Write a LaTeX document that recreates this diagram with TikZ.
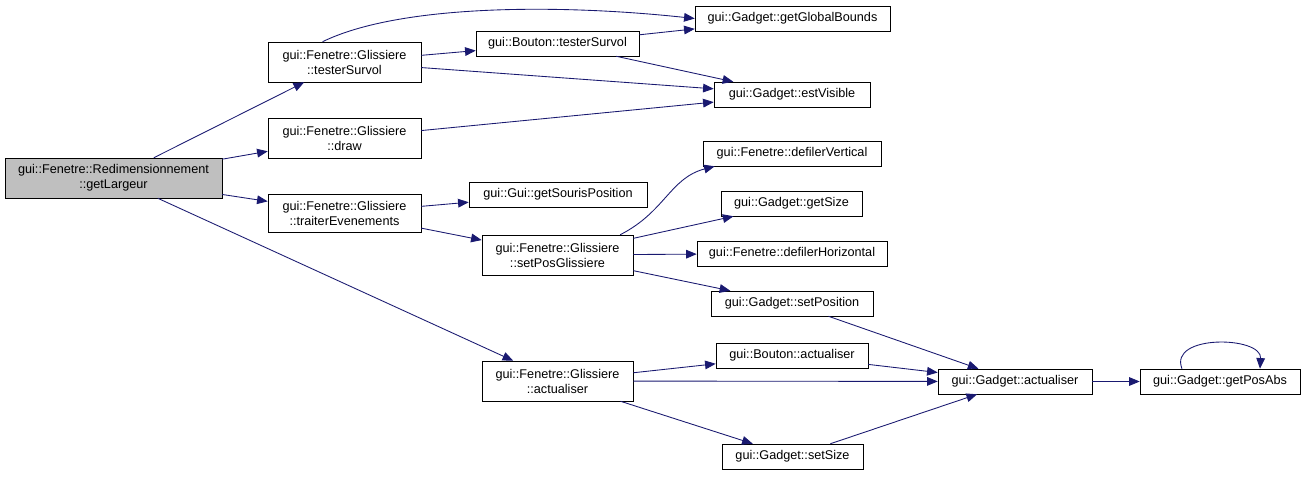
\documentclass[tikz,border=0pt]{standalone}
\usepackage{fontspec}
\setmainfont{Liberation Sans}
\usetikzlibrary{arrows.meta}
\definecolor{edgeblue}{HTML}{191970}

\begin{document}
\begin{tikzpicture}[x=0.75pt,y=-0.75pt]
\tikzstyle{every node} = [draw, rectangle, inner sep=0pt, align=center, minimum height=18.75pt, font=\fontsize{9.5}{11.25}\selectfont]
\tikzstyle{dbl} = [minimum height=30pt]
\tikzstyle{rootfn} = [dbl, fill=black!25]
\tikzstyle{call} = [draw=edgeblue, line width=0.65pt, -{Triangle[length=8pt,width=6.5pt]}]

\useasboundingbox (0,0) rectangle (1307,476);

\node[rootfn, minimum width=162.75pt] (getLargeur) at (113.5,178) {gui::Fenetre::Redimensionnement\\::getLargeur};

\node[dbl, minimum width=114.75pt] (glTesterSurvol) at (344.5,62) {gui::Fenetre::Glissiere\\::testerSurvol};
\node[dbl, minimum width=114.75pt] (glDraw) at (344.5,138) {gui::Fenetre::Glissiere\\::draw};
\node[dbl, minimum width=114.75pt, minimum height=28.5pt] (glTraiter) at (344.5,213) {gui::Fenetre::Glissiere\\::traiterEvenements};

\node[minimum width=122.25pt] (btTesterSurvol) at (557.5,43.5) {gui::Bouton::testerSurvol};
\node[minimum width=133.5pt] (souris) at (558,194.5) {gui::Gui::getSourisPosition};
\node[dbl, minimum width=113.25pt] (setPosGl) at (557.5,255) {gui::Fenetre::Glissiere\\::setPosGlissiere};
\node[dbl, minimum width=113.25pt] (glActualiser) at (557.5,381) {gui::Fenetre::Glissiere\\::actualiser};

\node[minimum width=146.25pt] (globalBounds) at (792.5,18.5) {gui::Gadget::getGlobalBounds};
\node[minimum width=117pt] (estVisible) at (792,94.5) {gui::Gadget::estVisible};
\node[minimum width=133.5pt] (defVert) at (792,153.5) {gui::Fenetre::defilerVertical};
\node[minimum width=105.75pt] (getSize) at (791.5,203.5) {gui::Gadget::getSize};
\node[minimum width=142.5pt] (defHoriz) at (792,253.5) {gui::Fenetre::defilerHorizontal};
\node[minimum width=121.5pt] (setPosition) at (792,303.5) {gui::Gadget::setPosition};
\node[minimum width=114pt] (btActualiser) at (792,355.5) {gui::Bouton::actualiser};
\node[minimum width=105.75pt] (setSize) at (792.5,456.5) {gui::Gadget::setSize};

\node[minimum width=115.5pt] (gdActualiser) at (1015,381.5) {gui::Gadget::actualiser};
\node[minimum width=120pt] (posAbs) at (1220,381.5) {gui::Gadget::getPosAbs};

\draw[call] (getLargeur) -- (glTesterSurvol);
\draw[call] (getLargeur) -- (glDraw);
\draw[call] (getLargeur) -- (glTraiter);
\draw[call] (getLargeur) -- (glActualiser);

\draw[call] ([xshift=-16.5pt]glTesterSurvol.north) .. controls (400,4) and (560,4) .. (globalBounds.west);
\draw[call] (glTesterSurvol) -- (btTesterSurvol);
\draw[call] (glTesterSurvol) -- (estVisible);
\draw[call] (btTesterSurvol) -- (globalBounds);
\draw[call] (btTesterSurvol) -- (estVisible);
\draw[call] (glDraw) -- (estVisible);

\draw[call] (glTraiter) -- (souris);
\draw[call] (glTraiter) -- (setPosGl);
\draw[call] ([xshift=47pt]setPosGl.north) .. controls (665,212) and (670,178) .. ([xshift=9pt]defVert.south west);
\draw[call] (setPosGl) -- (getSize);
\draw[call] (setPosGl) -- (defHoriz);
\draw[call] (setPosGl) -- (setPosition);

\draw[call] (glActualiser) -- (btActualiser);
\draw[call] (glActualiser) -- (gdActualiser);
\draw[call] (glActualiser) -- (setSize);
\draw[call] (setPosition) -- (gdActualiser);
\draw[call] (btActualiser) -- (gdActualiser);
\draw[call] (setSize) -- (gdActualiser);

\draw[call] (gdActualiser) -- (posAbs);
\draw[call] ([xshift=-28.5pt]posAbs.north) .. controls (1168,334) and (1262,336) .. ([xshift=30pt]posAbs.north);

\end{tikzpicture}
\end{document}
